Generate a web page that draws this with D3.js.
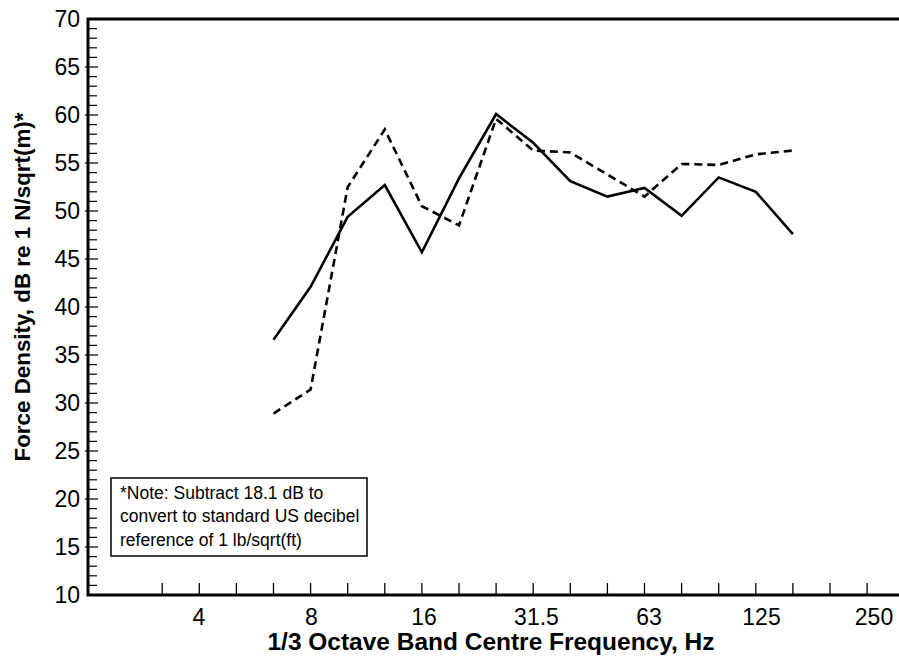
<!DOCTYPE html>
<html><head><meta charset="utf-8">
<script src="https://cdn.jsdelivr.net/npm/d3@7"></script>
<style>body{margin:0;background:#fff}svg{display:block}text{font-family:"Liberation Sans",Arial,sans-serif}</style>
</head><body><svg id="c" width="899" height="665"></svg>
<script>
// 1/3 octave bands, index 0 = 2 Hz
const bands = ["2","2.5","3.15","4","5","6.3","8","10","12.5","16","20","25","31.5","40","50","63","80","100","125","160","200","250"];
const tickBands = ["3.15","4","5","6.3","8","10","12.5","16","20","25","31.5","40","50","63","80","100","125","160","200","250"];
const labelBands = ["4","8","16","31.5","63","125","250"];
const seriesBands = ["6.3","8","10","12.5","16","20","25","31.5","40","50","63","80","100","125","160"];
const solidValues = [36.6,42.1,49.4,52.7,45.7,53.4,60.1,57.1,53.1,51.5,52.4,49.5,53.5,52.0,47.6];
const dashedValues = [28.9,31.4,52.5,58.5,50.5,48.5,59.6,56.3,56.1,53.8,51.5,54.9,54.8,55.9,56.3];
const yTicksMajor = [10,15,20,25,30,35,40,45,50,55,60,65,70];
const noteLines = ["*Note: Subtract 18.1 dB to","convert to standard US decibel","reference of 1 lb/sqrt(ft)"];

const svg = d3.select("#c");
const L = 88, T = 19, B = 595, R = 899;
const step = 37.1;
const x = d3.scaleLinear().domain([0, (R - L) / step]).range([L, R]);
const bx = b => x(bands.indexOf(b));
// tick labels are laid out on a slightly wider octave spacing, anchored at 4 Hz
const xl = d3.scaleLinear().domain([3, 21]).range([199, 874]);
const lx = b => xl(bands.indexOf(b));
const y = d3.scaleLinear().domain([10, 70]).range([B, T]);

// minor y ticks
const minor = d3.range(11, 70).filter(v => v % 5 !== 0);
svg.append("g").selectAll("line").data(minor).join("line")
  .attr("x1", L).attr("x2", L + 9).attr("y1", d => y(d)).attr("y2", d => y(d))
  .attr("stroke", "#000").attr("stroke-width", 1.2);
svg.append("g").selectAll("line").data(yTicksMajor.filter(v => v > 10 && v < 70)).join("line")
  .attr("x1", L - 3).attr("x2", L + 10).attr("y1", d => y(d)).attr("y2", d => y(d))
  .attr("stroke", "#000").attr("stroke-width", 1.2);
svg.append("g").selectAll("text").data(yTicksMajor).join("text")
  .attr("x", L - 8).attr("y", d => y(d)).attr("dy", "0.36em")
  .attr("text-anchor", "end").attr("font-size", 23).text(d => d);

// x ticks
svg.append("g").selectAll("line").data(tickBands).join("line")
  .attr("x1", d => bx(d)).attr("x2", d => bx(d)).attr("y1", B).attr("y2", B - 12)
  .attr("stroke", "#000").attr("stroke-width", 1.3);
svg.append("g").selectAll("text").data(labelBands).join("text")
  .attr("x", d => lx(d)).attr("y", B + 30)
  .attr("text-anchor", "middle").attr("font-size", 23).text(d => d);

// frame
svg.append("path").attr("d", `M${R},${T}H${L}V${B}H${R}`)
  .attr("fill", "none").attr("stroke", "#000").attr("stroke-width", 3);

// lines
const line = d3.line().x((d, i) => bx(seriesBands[i])).y(d => y(d));
svg.append("path").datum(solidValues).attr("d", line)
  .attr("fill", "none").attr("stroke", "#000").attr("stroke-width", 2.6).attr("stroke-linejoin", "miter");
svg.append("path").datum(dashedValues).attr("d", line)
  .attr("fill", "none").attr("stroke", "#000").attr("stroke-width", 2.6)
  .attr("stroke-dasharray", "8,5");

// note box
svg.append("rect").attr("x", 111).attr("y", 478).attr("width", 256).attr("height", 78)
  .attr("fill", "#fff").attr("stroke", "#000").attr("stroke-width", 1.5);
svg.append("g").selectAll("text").data(noteLines).join("text")
  .attr("x", 120).attr("y", (d, i) => 499 + i * 23.3)
  .attr("font-size", 17.5).text(d => d);

// axis titles
svg.append("text").attr("x", 491).attr("y", 650).attr("text-anchor", "middle")
  .attr("font-size", 23).attr("font-weight", "bold")
  .attr("textLength", 447).attr("lengthAdjust", "spacingAndGlyphs")
  .text("1/3 Octave Band Centre Frequency, Hz");
svg.append("text").attr("transform", "translate(30,287) rotate(-90)").attr("text-anchor", "middle")
  .attr("font-size", 22).attr("font-weight", "bold")
  .attr("textLength", 349).attr("lengthAdjust", "spacingAndGlyphs")
  .text("Force Density, dB re 1 N/sqrt(m)*");
</script></body></html>
